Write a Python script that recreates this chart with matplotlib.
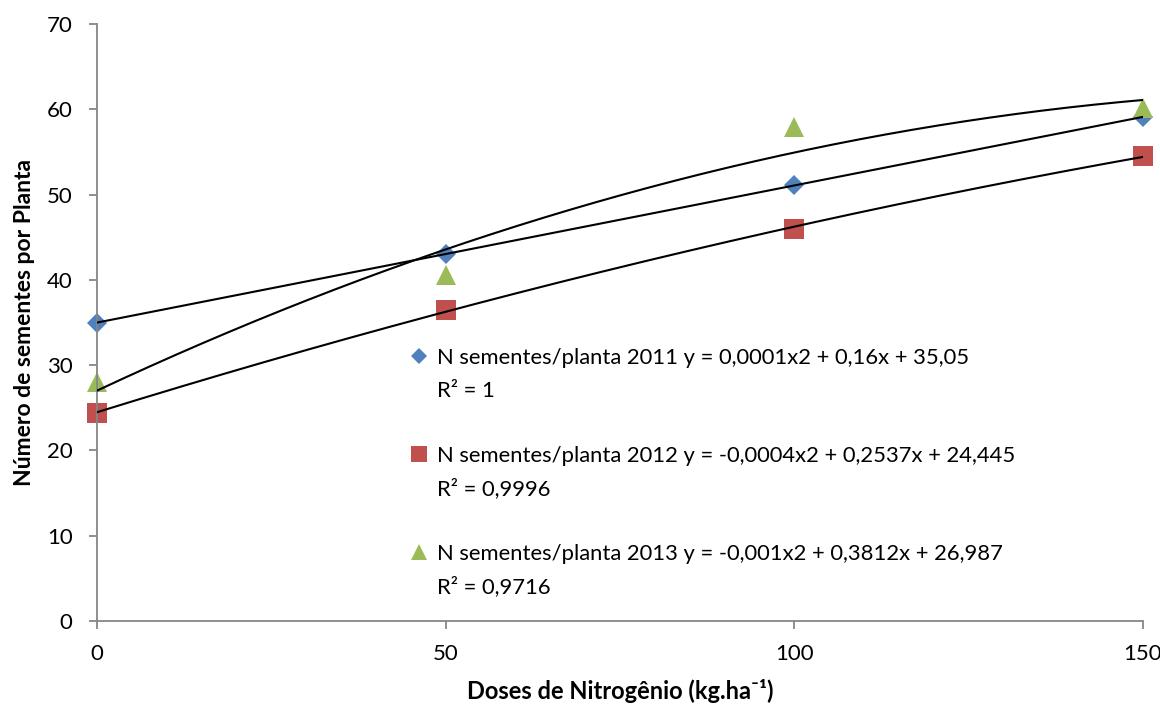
import numpy as np
import matplotlib
matplotlib.use("Agg")
from matplotlib import pyplot as plt
from matplotlib.lines import Line2D

# Dados
doses = [0, 50, 100, 150]
sem_2011 = [35.0, 43.0, 51.1, 59.1]
sem_2012 = [24.4, 36.5, 46.0, 54.5]
sem_2013 = [28.0, 40.6, 57.9, 60.1]

rotulos = [
    "N sementes/planta 2011 y = 0,0001x2 + 0,16x + 35,05",
    "N sementes/planta 2012 y = -0,0004x2 + 0,2537x + 24,445",
    "N sementes/planta 2013 y = -0,001x2 + 0,3812x + 26,987",
]
r2 = ["R² = 1", "R² = 0,9996", "R² = 0,9716"]

cores = ["#4F81BD", "#C0504D", "#9BBB59"]
marcadores = ["D", "s", "^"]
tamanhos = [10.5, 14.5, 14.5]

plt.rcParams["font.family"] = ["Lato", "DejaVu Sans"]

fig = plt.figure(figsize=(11.6, 7.09), dpi=100)
ax = fig.add_axes([97/1160, 1 - 621/709, (1143 - 97)/1160, (621 - 24)/709])

xs = np.linspace(0, 150, 200)
for serie, cor, mk, ms in zip([sem_2011, sem_2012, sem_2013], cores,
                              marcadores, tamanhos):
    ax.plot(doses, serie, ls="None", marker=mk, ms=ms, color=cor,
            markeredgewidth=0, zorder=2, clip_on=False)
    # linha de tendencia polinomial (ordem 2)
    coef = np.polyfit(doses, serie, 2)
    ax.plot(xs, np.polyval(coef, xs), color="black", lw=1.5, zorder=3)

ax.set_xlim(0, 150)
ax.set_ylim(0, 70)
ax.set_xticks([0, 50, 100, 150])
ax.set_yticks(np.arange(0, 71, 10))
for s in ["top", "right"]:
    ax.spines[s].set_visible(False)
for s in ["left", "bottom"]:
    ax.spines[s].set_color("#868686")
    ax.spines[s].set_linewidth(1.3)
ax.tick_params(axis="both", colors="#868686", labelcolor="black",
               labelsize=16, length=5.5, width=1.3)
ax.tick_params(axis="y", pad=12)
ax.tick_params(axis="x", pad=11)

ax.set_xlabel("Doses de Nitrogênio (kg.ha⁻¹)", fontsize=17,
              fontweight="bold", labelpad=11)
ax.set_ylabel("Número de sementes por Planta", fontsize=16.5,
              fontweight="bold", va="center")
ax.yaxis.set_label_coords((25 - 97) / 1046, 0.5)

# legenda: cada serie em duas linhas + linha em branco
vazio = Line2D([], [], ls="None")
handles, labels = [], []
for i in range(3):
    handles.append(Line2D([], [], ls="None", marker=marcadores[i],
                          ms=tamanhos[i] * 0.75, color=cores[i],
                          markeredgewidth=0))
    labels.append(rotulos[i])
    handles.append(vazio)
    labels.append(r2[i])
    if i < 2:
        handles.append(vazio)
        labels.append(" ")
fig.legend(handles, labels, loc="upper left",
           bbox_to_anchor=(410/1160, 1 - 348/709), frameon=False,
           fontsize=15.8, labelspacing=0.57, handlelength=0.8,
           handletextpad=0.45, borderpad=0, borderaxespad=0)

fig.savefig("out.png", dpi=100)
